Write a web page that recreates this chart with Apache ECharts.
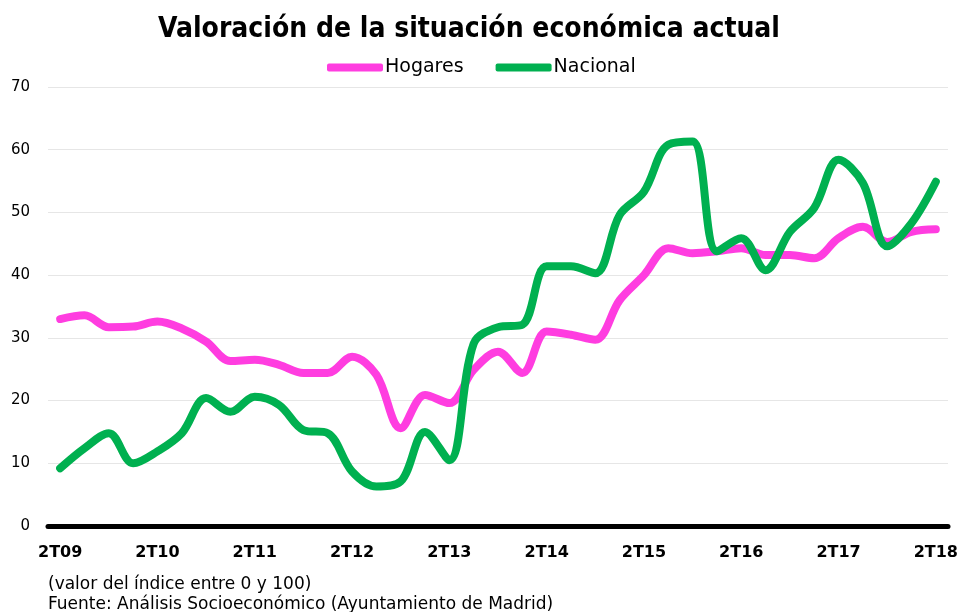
<!DOCTYPE html>
<html>
<head>
<meta charset="utf-8">
<script src="https://cdn.jsdelivr.net/npm/echarts@6/dist/echarts.min.js"></script>
<style>
  html, body { margin: 0; padding: 0; background: #fff; }
  #chart { width: 962px; height: 612px; }
</style>
</head>
<body>
<div id="chart"></div>
<script>
// trimestres 2T09 .. 2T18
var years = ["09", "10", "11", "12", "13", "14", "15", "16", "17", "18"];
var quarters = [];
for (var y = 0; y < years.length; y++) {
  for (var q = 2; q <= 5; q++) {
    if (y === years.length - 1 && q > 2) break;
    var qq = q > 4 ? q - 4 : q;
    var yy = q > 4 ? years[y + 1] : years[y];
    quarters.push(qq + "T" + yy);
  }
}

var hogares = [33.0, 33.6, 31.7, 31.8, 32.6, 31.5, 29.4, 26.3, 26.5, 25.7, 24.4, 24.4,
  27.0, 24.1, 15.6, 20.9, 19.6, 24.9, 27.8, 24.4, 31.0, 30.5, 29.7, 36.0, 40.0, 44.3,
  43.5, 43.8, 44.3, 43.2, 43.2, 42.7, 45.9, 47.7, 45.3, 46.9, 47.3];
var nacional = [9.2, 12.4, 14.8, 10.0, 11.9, 14.8, 20.4, 18.2, 20.6, 19.3, 15.3, 14.8,
  8.7, 6.3, 7.1, 15.0, 10.5, 29.1, 31.7, 32.1, 41.4, 41.4, 40.3, 49.6, 53.3, 60.8,
  61.3, 43.8, 45.9, 40.8, 46.9, 50.7, 58.4, 54.7, 44.6, 48.3, 54.9];

var colors = ["#FF3DE0", "#00B050"];
var narrow = "'Liberation Sans Narrow', 'DejaVu Sans Condensed', 'Liberation Sans'";

var myChart = echarts.init(document.getElementById("chart"));
var option = {
  animation: false,
  color: colors,
  title: {
    text: "Valoración de la situación económica actual",
    left: 464,
    textAlign: "center",
    top: 11,
    textStyle: {
      fontFamily: narrow,
      fontWeight: "bold",
      fontSize: 28,
      color: "#000"
    }
  },
  legend: {
    top: 53,
    left: 322,
    icon: "roundRect",
    itemWidth: 56,
    itemHeight: 8,
    itemGap: 32,
    textStyle: {
      fontFamily: "'DejaVu Sans'",
      fontSize: 19,
      color: "#000",
      padding: [0, 0, 0, -3]
    },
    data: ["Hogares", "Nacional"]
  },
  grid: {
    left: 48,
    right: 14,
    top: 87,
    bottom: 86
  },
  xAxis: {
    type: "category",
    data: quarters,
    boundaryGap: true,
    axisLine: { lineStyle: { color: "#000", width: 5 } },
    axisTick: { show: false },
    axisLabel: {
      interval: 3,
      margin: 19,
      color: "#000",
      fontFamily: "'DejaVu Sans'",
      fontWeight: "bold",
      fontSize: 16
    }
  },
  yAxis: {
    type: "value",
    min: 0,
    max: 70,
    interval: 10,
    axisLine: { show: false },
    axisTick: { show: false },
    splitLine: { lineStyle: { color: "#e6e6e6", width: 1 } },
    axisLabel: {
      margin: 18,
      color: "#000",
      fontFamily: "'DejaVu Sans'",
      fontSize: 15
    }
  },
  series: [
    {
      name: "Hogares",
      type: "line",
      data: hogares,
      smooth: 0.35,
      showSymbol: false,
      lineStyle: { width: 8, color: colors[0], cap: "round" }
    },
    {
      name: "Nacional",
      type: "line",
      data: nacional,
      smooth: 0.35,
      showSymbol: false,
      lineStyle: { width: 8, color: colors[1], cap: "round" }
    }
  ],
  graphic: [
    {
      type: "text",
      left: 48,
      top: 575,
      style: {
        text: "(valor del índice entre 0 y 100)\nFuente: Análisis Socioeconómico (Ayuntamiento de Madrid)",
        font: "17px 'DejaVu Sans'",
        lineHeight: 20,
        fill: "#000"
      }
    }
  ]
};

myChart.setOption(option);
window.addEventListener("resize", function () {
  myChart.resize();
});
</script>
</body>
</html>
